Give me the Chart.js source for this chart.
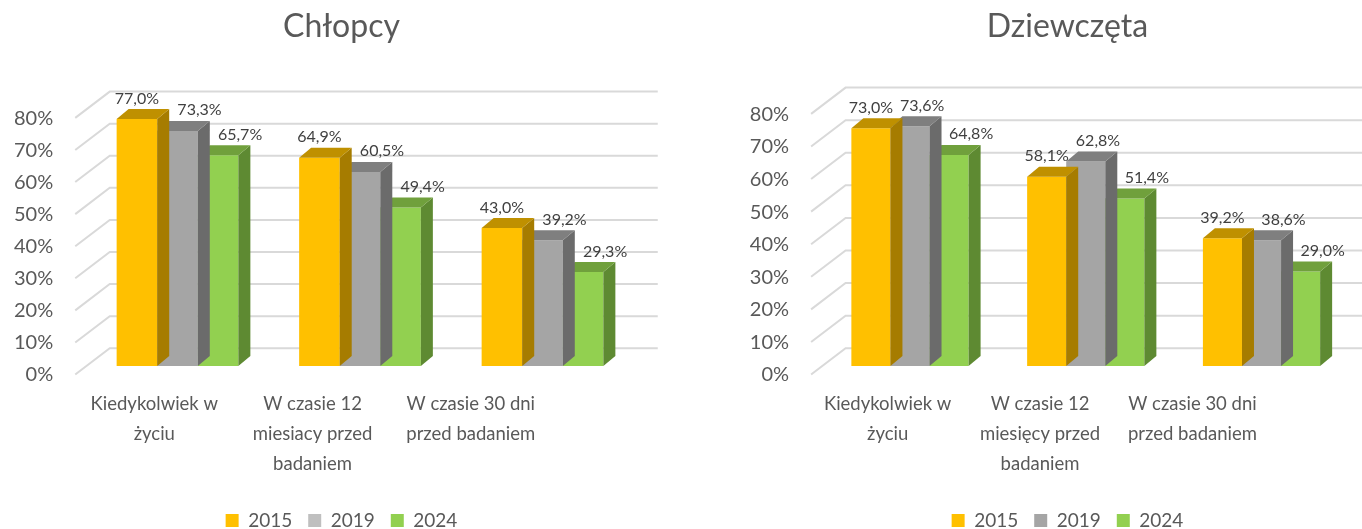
<!DOCTYPE html>
<html lang="pl">
<head>
<meta charset="utf-8">
<title>Chłopcy / Dziewczęta</title>
<script src="https://cdn.jsdelivr.net/npm/chart.js"></script>
<style>
  body { margin: 0; overflow: hidden; background: #fff; }
  #boys { position: absolute; left: 0; top: 0; }
  #girls { position: absolute; left: 683px; top: 0; }
</style>
</head>
<body>
<canvas id="boys" width="683" height="540"></canvas>
<canvas id="girls" width="720" height="540"></canvas>

<script>
    // dane
    var years = ['2015', '2019', '2024'];
    var categoriesBoys = [['Kiedykolwiek w', 'życiu'], ['W czasie 12', 'miesiacy przed', 'badaniem'], ['W czasie 30 dni', 'przed badaniem']];
    var categoriesGirls = [['Kiedykolwiek w', 'życiu'], ['W czasie 12', 'miesięcy przed', 'badaniem'], ['W czasie 30 dni', 'przed badaniem']];
    var boys2015 = [77.0, 64.9, 43.0];
    var boys2019 = [73.3, 60.5, 39.2];
    var boys2024 = [65.7, 49.4, 29.3];
    var girls2015 = [73.0, 58.1, 39.2];
    var girls2019 = [73.6, 62.8, 38.6];
    var girls2024 = [64.8, 51.4, 29.0];
    var yMax = 80;
    var yStep = 10;

    var font = 'Lato';
    var textColor = '#595959';

    // tylna sciana + skosne linie siatki (efekt 3D)
    var gridPlugin = {
        id: 'grid3d',
        beforeDatasetsDraw: function(chart) {
            var ctx = chart.ctx, y = chart.scales.y, a = chart.chartArea;
            ctx.save();
            ctx.strokeStyle = '#D9D9D9';
            ctx.lineWidth = 2;
            y.ticks.forEach(function(t) {
                var p = y.getPixelForValue(t.value);
                ctx.beginPath();
                ctx.moveTo(a.left - 11, p + 8.5);
                ctx.lineTo(a.left + 23.5, p - 17.8);
                ctx.lineTo(a.right + 24, p - 17.8);
                ctx.stroke();
            });
            ctx.restore();
        }
    };

    // boczna i gorna scianka slupka
    var barPlugin = {
        id: 'bar3d',
        afterDatasetDraw: function(chart, args) {
            var ds = chart.data.datasets[args.index], ctx = chart.ctx;
            var dx = 12, dy = 10;
            ctx.save();
            args.meta.data.forEach(function(bar) {
                var p = bar.getProps(['x', 'y', 'base', 'width'], true);
                var l = p.x - p.width / 2, r = p.x + p.width / 2;
                ctx.fillStyle = ds.sideColor;
                ctx.beginPath();
                ctx.moveTo(r, p.y);
                ctx.lineTo(r + dx, p.y - dy);
                ctx.lineTo(r + dx, p.base - dy);
                ctx.lineTo(r, p.base);
                ctx.closePath();
                ctx.fill();
                ctx.fillStyle = ds.topColor;
                ctx.beginPath();
                ctx.moveTo(l, p.y);
                ctx.lineTo(l + dx, p.y - dy);
                ctx.lineTo(r + dx, p.y - dy);
                ctx.lineTo(r, p.y);
                ctx.closePath();
                ctx.fill();
            });
            ctx.restore();
        }
    };

    // etykiety wartosci
    var labelPlugin = {
        id: 'values',
        afterDatasetsDraw: function(chart) {
            var ctx = chart.ctx;
            ctx.save();
            ctx.font = '16px ' + font;
            ctx.fillStyle = '#404040';
            ctx.textAlign = 'center';
            ctx.textBaseline = 'alphabetic';
            for (var i = 0; i < chart.data.labels.length; i++) {
                var prev = null;
                chart.data.datasets.forEach(function(ds, d) {
                    var bar = chart.getDatasetMeta(d).data[i];
                    var v = ds.data[i];
                    var text = v.toFixed(1).replace('.', ',') + '%';
                    var w = ctx.measureText(text).width;
                    var cx = bar.x, cy = bar.y - 15.5;
                    if (prev && prev.v > v) cx += 22;
                    if (prev && Math.abs(prev.cy - cy) < 17 && cx - w / 2 < prev.right + 7) cx = prev.right + 7 + w / 2;
                    ctx.fillText(text, cx, cy);
                    prev = { v: v, cy: cy, right: cx + w / 2 };
                });
            }
            ctx.restore();
        }
    };

    function makeChart(id, cfg) {
        var ctx = document.getElementById(id).getContext('2d');
        return new Chart(ctx, {
            type: 'bar',
            data: {
                labels: cfg.categories,
                datasets: [
                    { label: years[0], data: cfg.series[0], backgroundColor: '#FFC000', topColor: '#BF9000', sideColor: '#A67C00' },
                    { label: years[1], data: cfg.series[1], backgroundColor: '#A5A5A5', topColor: '#7F7F7F', sideColor: '#6B6B6B' },
                    { label: years[2], data: cfg.series[2], backgroundColor: '#92D050', topColor: '#70A03C', sideColor: '#5E8A32' }
                ]
            },
            options: {
                responsive: false,
                animation: false,
                layout: { padding: { left: cfg.padLeft, right: cfg.padRight, top: 0, bottom: 0 } },
                datasets: { bar: { categoryPercentage: 0.667, barPercentage: 1, borderWidth: 0 } },
                scales: {
                    x: { type: 'category', display: false },
                    xl: {
                        type: 'linear',
                        position: 'bottom',
                        offset: false,
                        min: -0.43,
                        max: 3.03,
                        grid: { display: false, drawTicks: false, offset: false },
                        border: { display: false },
                        afterBuildTicks: function(s) {
                            s.ticks = cfg.categories.map(function(c, i) { return { value: i }; });
                        },
                        afterFit: function(s) {
                            s.height = 129;
                            s.paddingLeft = 0;
                            s.paddingRight = 0;
                        },
                        ticks: {
                            autoSkip: false,
                            maxRotation: 0,
                            padding: 23.5,
                            color: textColor,
                            font: { family: font, size: 18.5, lineHeight: 1.62 },
                            callback: function(v) { return cfg.categories[v]; }
                        }
                    },
                    y: {
                        position: 'left',
                        min: 0,
                        max: yMax,
                        grid: { display: false, drawTicks: false },
                        border: { display: false },
                        afterFit: function(s) {
                            s.width = cfg.yWidth;
                        },
                        ticks: {
                            stepSize: yStep,
                            padding: 33,
                            labelOffset: 9,
                            color: textColor,
                            font: { family: font, size: 20 },
                            callback: function(v) { return v + '%'; }
                        }
                    },
                    yr: {
                        type: 'linear',
                        position: 'right',
                        grid: { display: false, drawTicks: false },
                        border: { display: false },
                        ticks: { display: false },
                        afterFit: function(s) {
                            s.width = cfg.rightWidth;
                        }
                    }
                },
                plugins: {
                    title: {
                        display: true,
                        text: cfg.title,
                        color: textColor,
                        font: { family: font, size: 32, weight: 'normal' },
                        padding: { top: 7, bottom: cfg.titleGap }
                    },
                    legend: {
                        position: 'bottom',
                        labels: {
                            boxWidth: 13,
                            boxHeight: 13,
                            padding: 16,
                            color: textColor,
                            font: { family: font, size: 19 },
                            generateLabels: function(chart) {
                                var items = Chart.defaults.plugins.legend.labels.generateLabels(chart);
                                items.forEach(function(it, k) {
                                    it.fillStyle = cfg.legendColors[k];
                                    it.strokeStyle = cfg.legendColors[k];
                                    it.lineWidth = 0;
                                });
                                return items;
                            }
                        }
                    },
                    tooltip: { enabled: false }
                }
            },
            plugins: [gridPlugin, barPlugin, labelPlugin]
        });
    }

    makeChart('boys', {
        title: 'Chłopcy',
        categories: categoriesBoys,
        series: [boys2015, boys2019, boys2024],
        padLeft: 5,
        padRight: 5,
        yWidth: 81.25,
        rightWidth: 44.25,
        titleGap: 64,
        legendColors: ['#FFC000', '#BFBFBF', '#92D050']
    });

    makeChart('girls', {
        title: 'Dziewczęta',
        categories: categoriesGirls,
        series: [girls2015, girls2019, girls2024],
        padLeft: 60,
        padRight: 11,
        yWidth: 79.1,
        rightWidth: 42.6,
        titleGap: 60,
        legendColors: ['#FFC000', '#A5A5A5', '#92D050']
    });
</script>
</body>
</html>
